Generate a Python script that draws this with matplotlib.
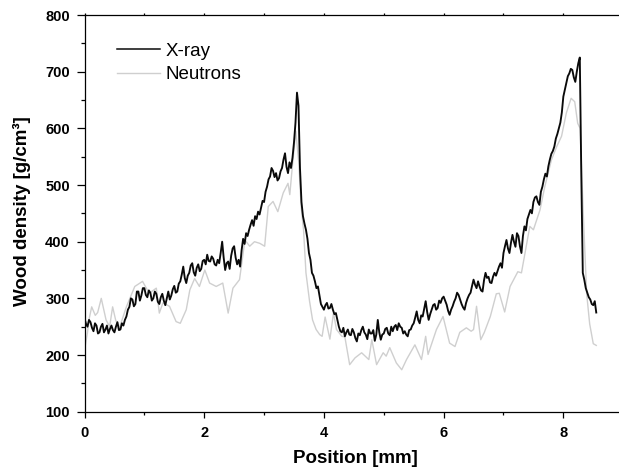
import numpy as np
import matplotlib
matplotlib.use("Agg")
import matplotlib.pyplot as plt
from matplotlib.ticker import MultipleLocator

plt.rcParams['font.family'] = ['Liberation Sans', 'DejaVu Sans']

# X-ray density, sampled every 0.025 mm from 0 to 8.55 mm (one row = 0.5 mm)
xray_step = 0.025
xray_density = [
    265, 255, 250, 262, 258, 248, 242, 256, 252, 238, 240, 250, 255, 240, 245, 252, 238, 246, 252, 244,
    240, 250, 258, 244, 245, 256, 252, 262, 268, 280, 285, 300, 298, 286, 290, 312, 312, 296, 305, 318,
    318, 306, 302, 314, 310, 296, 300, 312, 308, 294, 290, 302, 308, 296, 288, 300, 312, 298, 305, 316,
    322, 310, 312, 326, 330, 342, 356, 336, 327, 340, 345, 358, 362, 346, 340, 354, 360, 348, 352, 366,
    368, 360, 377, 366, 365, 374, 370, 360, 358, 368, 362, 380, 400, 372, 350, 362, 365, 352, 375, 388,
    392, 372, 360, 368, 356, 385, 405, 396, 415, 410, 421, 430, 438, 428, 445, 440, 453, 448, 460, 472,
    470, 488, 497, 510, 515, 530, 525, 514, 521, 508, 512, 524, 530, 545, 556, 532, 521, 540, 530, 548,
    575, 610, 663, 640, 530, 470, 445, 432, 421, 405, 380, 368, 345, 340, 330, 318, 321, 305, 290, 285,
    280, 288, 292, 282, 283, 290, 280, 272, 274, 262, 250, 242, 240, 248, 233, 240, 245, 236, 235, 246,
    240, 230, 224, 238, 235, 244, 250, 240, 236, 228, 245, 238, 238, 244, 225, 236, 262, 240, 227, 236,
    238, 246, 248, 238, 235, 250, 242, 250, 253, 244, 256, 250, 248, 238, 242, 236, 233, 244, 245, 252,
    256, 266, 277, 262, 256, 270, 268, 282, 295, 276, 262, 272, 280, 288, 290, 280, 283, 296, 292, 300,
    303, 296, 289, 278, 271, 280, 286, 294, 300, 310, 306, 298, 290, 284, 280, 292, 300, 306, 310, 322,
    333, 324, 318, 330, 321, 314, 312, 332, 345, 336, 338, 328, 327, 338, 345, 340, 348, 356, 362, 354,
    380, 392, 403, 388, 380, 398, 412, 400, 391, 415, 410, 392, 380, 410, 427, 420, 440, 448, 456, 450,
    470, 478, 480, 470, 465, 488, 497, 510, 520, 515, 533, 545, 555, 560, 568, 582, 590, 600, 610, 628,
    656, 668, 680, 692, 697, 705, 703, 690, 682, 700, 715, 725, 520, 345, 333, 318, 310, 302, 298, 290,
    288, 295, 275,
]
xray_pos = np.arange(len(xray_density)) * xray_step

# Neutron density
neutron_pos = [
    0.00, 0.05, 0.08, 0.12, 0.18, 0.22, 0.28, 0.36, 0.42, 0.47,
    0.52, 0.58, 0.70, 0.84, 0.97, 1.08, 1.20, 1.25, 1.31, 1.42,
    1.53, 1.60, 1.70, 1.76, 1.84, 1.92, 2.01, 2.09, 2.20, 2.31,
    2.40, 2.48, 2.59, 2.68, 2.76, 2.84, 2.93, 3.01, 3.07, 3.15,
    3.23, 3.32, 3.40, 3.43, 3.47, 3.53, 3.58, 3.62, 3.66, 3.70,
    3.76, 3.81, 3.87, 3.93, 3.97, 4.02, 4.10, 4.16, 4.21, 4.30,
    4.35, 4.43, 4.52, 4.63, 4.75, 4.80, 4.88, 4.99, 5.04, 5.10,
    5.21, 5.30, 5.38, 5.52, 5.63, 5.70, 5.74, 5.88, 5.99, 6.10,
    6.19, 6.27, 6.38, 6.46, 6.50, 6.55, 6.62, 6.68, 6.78, 6.88,
    6.93, 7.02, 7.11, 7.24, 7.30, 7.36, 7.44, 7.50, 7.61, 7.69,
    7.80, 7.89, 7.97, 8.05, 8.13, 8.19, 8.24, 8.28, 8.33, 8.39,
    8.44, 8.50, 8.55,
]
neutron_density = [
    209, 240, 265, 285, 270, 275, 300, 262, 250, 285,
    262, 247, 285, 321, 330, 309, 318, 274, 292, 286,
    259, 256, 280, 315, 335, 321, 350, 327, 321, 327,
    274, 318, 333, 403, 392, 400, 397, 392, 462, 471,
    453, 486, 503, 483, 530, 595, 540, 462, 420, 345,
    295, 262, 245, 236, 233, 267, 228, 274, 245, 233,
    232, 183, 195, 204, 192, 227, 183, 204, 198, 213,
    186, 174, 192, 218, 192, 233, 201, 245, 268, 221,
    215, 240, 248, 242, 245, 286, 227, 240, 268, 308,
    309, 276, 321, 347, 345, 380, 427, 421, 456, 497,
    544, 568, 586, 627, 653, 647, 609, 600, 456, 308,
    255, 220, 217,
]

series_labels = ["X-ray", "Neutrons"]
x_ticks = [0, 2, 4, 6, 8]
y_ticks = [100, 200, 300, 400, 500, 600, 700, 800]

fig = plt.figure(figsize=(6.19, 4.73), dpi=100)
ax = fig.add_axes([84.5 / 619, 61.3 / 473, 1 - 84.5 / 619, (411.7 - 15) / 473])

ax.plot(neutron_pos, neutron_density, color='#cfcfcf', lw=1.0, label=series_labels[1], zorder=2)
ax.plot(xray_pos, xray_density, color='#0a0a0a', lw=1.35, label=series_labels[0], zorder=3)

ax.set_xlim(0, 8.93)
ax.set_ylim(100, 800)
ax.set_xticks(x_ticks)
ax.set_yticks(y_ticks)
ax.xaxis.set_minor_locator(MultipleLocator(1))
ax.yaxis.set_minor_locator(MultipleLocator(50))

ax.spines['right'].set_visible(False)
for s in ['left', 'bottom', 'top']:
    ax.spines[s].set_linewidth(0.9)

ax.tick_params(axis='x', which='major', direction='out', length=4.2, width=0.9, pad=6,
               labelsize=10.5, top=True)
ax.tick_params(axis='x', which='minor', direction='out', length=2.3, width=0.9, top=True)
ax.tick_params(axis='y', which='major', direction='out', length=5.5, width=0.9, pad=5,
               labelsize=10.5)
ax.tick_params(axis='y', which='minor', direction='out', length=3, width=0.9)
for lab in ax.get_xticklabels() + ax.get_yticklabels():
    lab.set_fontweight('bold')
for t in ax.xaxis.get_major_ticks() + ax.xaxis.get_minor_ticks():
    t.tick2line.set_markersize(1.5)

ax.set_xlabel("Position [mm]", fontsize=13.5, fontweight='bold')
ax.set_ylabel("Wood density [g/cm³]", fontsize=13.5, fontweight='bold')
ax.xaxis.set_label_coords((355 - 84.5) / 534.5, -(450 - 411.7) / 396.7)
ax.yaxis.set_label_coords(-(84.5 - 31) / 534.5, (411.7 - 211) / 396.7)

handles, labels = ax.get_legend_handles_labels()
order = [1, 0]
leg = ax.legend([handles[i] for i in order], [labels[i] for i in order],
                loc='upper left', bbox_to_anchor=(0.061, 0.93), frameon=False,
                fontsize=13.5, handlelength=2.3, handletextpad=0.3,
                labelspacing=0.33, borderpad=0, borderaxespad=0)
leg.get_lines()[0].set_linewidth(1.1)

fig.savefig("out.png", dpi=100)
